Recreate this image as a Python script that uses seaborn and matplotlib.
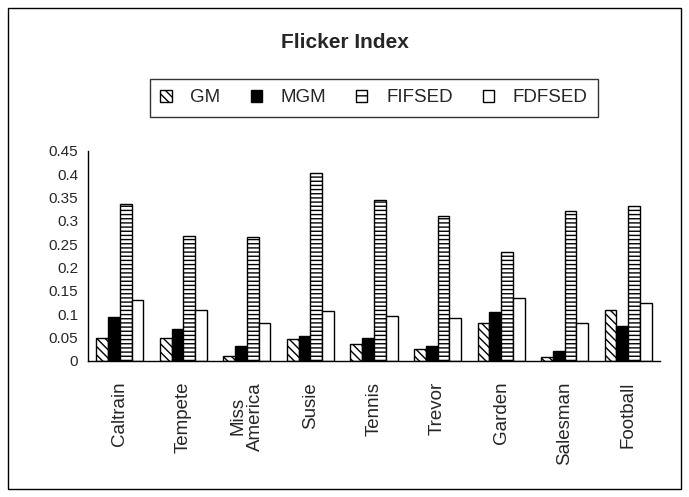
import matplotlib
matplotlib.use("Agg")
import matplotlib.pyplot as plt
import seaborn as sns
import pandas as pd
import numpy as np
from matplotlib.patches import Rectangle

categories = ["Caltrain", "Tempete", "Miss\nAmerica", "Susie", "Tennis", "Trevor", "Garden", "Salesman", "Football"]
series = ["GM", "MGM", "FIFSED", "FDFSED"]
gm     = [0.050, 0.050, 0.011, 0.047, 0.036, 0.026, 0.082, 0.008, 0.109]
mgm    = [0.094, 0.068, 0.033, 0.054, 0.050, 0.033, 0.106, 0.022, 0.076]
fifsed = [0.336, 0.268, 0.265, 0.403, 0.345, 0.311, 0.233, 0.322, 0.333]
fdfsed = [0.131, 0.109, 0.081, 0.107, 0.097, 0.092, 0.136, 0.082, 0.124]
yticks = [0, 0.05, 0.1, 0.15, 0.2, 0.25, 0.3, 0.35, 0.4, 0.45]
ytick_labels = ["0", "0.05", "0.1", "0.15", "0.2", "0.25", "0.3", "0.35", "0.4", "0.45"]

sns.set_style("white")
plt.rcParams["font.family"] = ["Liberation Sans", "DejaVu Sans"]
plt.rcParams["hatch.linewidth"] = 1.0

df = pd.DataFrame({
    "cat": np.repeat(categories, 4),
    "series": series * len(categories),
    "value": np.array([gm, mgm, fifsed, fdfsed]).T.ravel(),
})

fig = plt.figure(figsize=(6.89, 4.97), dpi=100)
ax = fig.add_axes([88/689, 1-361/497, (660-88)/689, (361-151)/497])

sns.barplot(data=df, x="cat", y="value", hue="series", order=categories, hue_order=series,
            palette=["white", "black", "white", "white"], width=0.74, ax=ax,
            edgecolor="black", linewidth=1.0, legend=False, saturation=1)

hatches = ["\\\\\\\\", "", "----", ""]
for cont, h in zip(ax.containers, hatches):
    for bar in cont:
        bar.set_hatch(h)
        bar.set_edgecolor("black")

ax.set_ylim(0, 0.45)
ax.set_xlim(-0.5, len(categories) - 0.5)
ax.set_yticks(yticks)
ax.set_yticklabels(ytick_labels, fontsize=11)
ax.set_xticks(range(len(categories)))
ax.set_xticklabels(categories, rotation=90, fontsize=13.5, va="top", ha="center", linespacing=1.05)
ax.set_xticks(np.arange(-0.5, len(categories)), minor=True)
ax.tick_params(axis="x", which="major", length=0, pad=15)
ax.tick_params(axis="x", which="minor", length=6, width=1, color="black", direction="out")
ax.tick_params(axis="y", length=4, width=1, color="black", direction="out", pad=3)
ax.set_xlabel("")
ax.set_ylabel("")
for s in ["top", "right"]:
    ax.spines[s].set_visible(False)
for s in ["left", "bottom"]:
    ax.spines[s].set_color("black")
    ax.spines[s].set_linewidth(1.0)

handles = [Rectangle((0, 0), 1, 1, facecolor=c, edgecolor="black", hatch=h, linewidth=1)
           for c, h in zip(["white", "black", "white", "white"], ["\\\\\\\\", "", "--", ""])]
leg = fig.legend(handles, series, loc="center", bbox_to_anchor=(374/689, 1-98/497), ncol=4,
                 fontsize=13.5, frameon=True, fancybox=False, edgecolor="black",
                 handlelength=0.6, handleheight=0.6, columnspacing=1.6, handletextpad=1.0,
                 borderpad=0.55)
leg.get_frame().set_linewidth(1.0)

fig.text(345/689, 1-42/497, "Flicker Index", ha="center", va="center", fontsize=15, fontweight="bold")

fig.patches.append(Rectangle((8/689, 8/497), (681-8)/689, (489-8)/497, transform=fig.transFigure,
                             fill=False, edgecolor="black", linewidth=1.0))

fig.savefig("out.png", dpi=100)
